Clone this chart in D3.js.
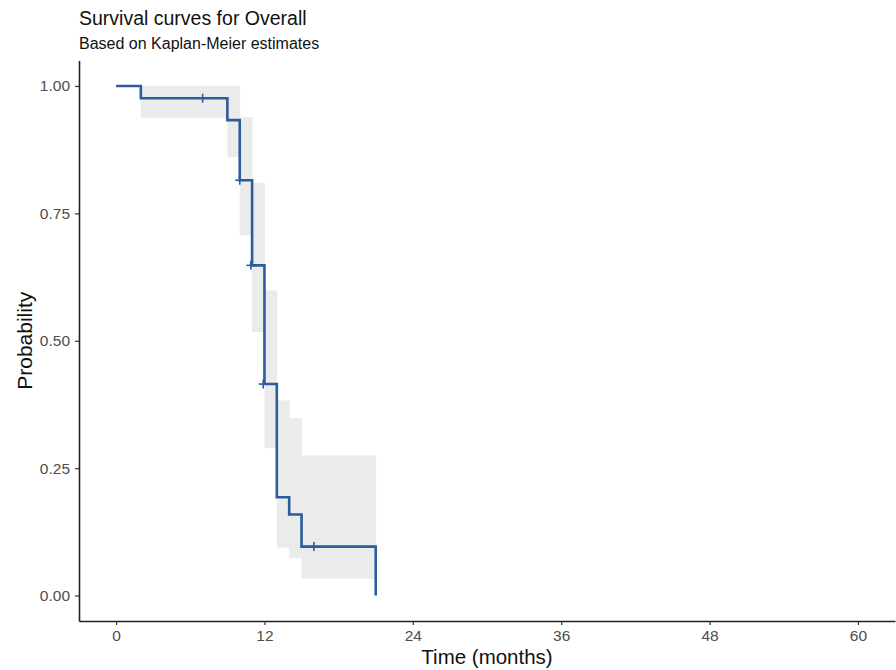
<!DOCTYPE html>
<html>
<head>
<meta charset="utf-8">
<script src="https://cdn.jsdelivr.net/npm/d3@7"></script>
<style>
  body { margin: 0; background: #fff; }
  svg { font-family: "Liberation Sans", Arial, sans-serif; }
</style>
</head>
<body>
<div id="chart"></div>
<script>
// Kaplan-Meier steps (time in months)
const stepTimes = [0, 2, 9, 10, 11, 12, 13, 14, 15, 21];
const survival  = [1.00, 0.976, 0.933, 0.815, 0.648, 0.415, 0.193, 0.159, 0.096, 0.0];
const ciUpper   = [1.00, 1.00, 1.00, 0.939, 0.81, 0.599, 0.383, 0.348, 0.275, null];
const ciLower   = [1.00, 0.937, 0.86, 0.707, 0.517, 0.289, 0.094, 0.073, 0.033, null];

// censor marks
const censorTimes = [7, 10, 10.9, 11.9, 16];
const censorSurv  = [0.976, 0.815, 0.648, 0.415, 0.096];

const xTicks = [0, 12, 24, 36, 48, 60];
const yTicks = [0, 0.25, 0.5, 0.75, 1];

const width = 896, height = 670;
const margin = { top: 60.5, right: 1, bottom: 49, left: 79 };

const svg = d3.select("#chart").append("svg")
    .attr("width", width)
    .attr("height", height);

const x = d3.scaleLinear().domain([-3, 63]).range([margin.left, width - margin.right]);
const y = d3.scaleLinear().domain([-0.05, 1.05]).range([height - margin.bottom, margin.top]);

var blue = "#2b5c9c";

// confidence band, one rectangle per step interval
const bands = [];
for (let i = 0; i < stepTimes.length - 1; i++) {
    if (ciUpper[i] == null) continue;
    bands.push({ t0: stepTimes[i], t1: stepTimes[i + 1], hi: ciUpper[i], lo: ciLower[i] });
}

svg.append("g")
    .selectAll("rect")
    .data(bands)
    .join("rect")
    .attr("x", d => x(d.t0))
    .attr("width", d => x(d.t1) - x(d.t0) + 0.5)
    .attr("y", d => y(d.hi))
    .attr("height", d => y(d.lo) - y(d.hi))
    .attr("fill", "#ebebeb");

// step line
const pts = stepTimes.map((t, i) => [t, survival[i]]);
const line = d3.line()
    .x(d => x(d[0]))
    .y(d => y(d[1]))
    .curve(d3.curveStepAfter);

svg.append("path")
    .datum(pts)
    .attr("fill", "none")
    .attr("stroke", blue)
    .attr("stroke-width", 2.6)
    .attr("d", line);

// censor "+" marks
const gCensor = svg.append("g")
    .attr("stroke", blue)
    .attr("stroke-width", 1.6);
censorTimes.forEach((t, i) => {
    const cx = x(t), cy = y(censorSurv[i]);
    gCensor.append("line").attr("x1", cx - 4.5).attr("x2", cx + 4.5).attr("y1", cy).attr("y2", cy);
    gCensor.append("line").attr("x1", cx).attr("x2", cx).attr("y1", cy - 4.5).attr("y2", cy + 4.5);
});

// axes
const xAxis = svg.append("g")
    .attr("transform", `translate(0,${height - margin.bottom})`)
    .call(d3.axisBottom(x).tickValues(xTicks).tickSize(4).tickPadding(5).tickSizeOuter(0));

const yAxis = svg.append("g")
    .attr("transform", `translate(${margin.left},0)`)
    .call(d3.axisLeft(y).tickValues(yTicks).tickSize(4).tickPadding(5).tickSizeOuter(0)
        .tickFormat(d3.format(".2f")));

[xAxis, yAxis].forEach(g => {
    g.select(".domain").attr("stroke", "#222").attr("stroke-width", 1.6);
    g.selectAll(".tick line").attr("stroke", "#333").attr("stroke-width", 1.2);
    g.selectAll(".tick text").attr("fill", "#4d4d4d").attr("font-size", 15.5)
        .attr("font-family", "Liberation Sans, Arial, sans-serif");
});

// axis titles
svg.append("text")
    .attr("x", (margin.left + width - margin.right) / 2)
    .attr("y", 664)
    .attr("text-anchor", "middle")
    .attr("font-size", 20.5)
    .attr("fill", "#111")
    .text("Time (months)");

svg.append("text")
    .attr("transform", `translate(32,${(margin.top + height - margin.bottom) / 2}) rotate(-90)`)
    .attr("text-anchor", "middle")
    .attr("font-size", 21)
    .attr("fill", "#111")
    .text("Probability");

// title and subtitle
svg.append("text")
    .attr("x", margin.left)
    .attr("y", 25)
    .attr("font-size", 19.5)
    .attr("fill", "#111")
    .text("Survival curves for Overall");

svg.append("text")
    .attr("x", margin.left)
    .attr("y", 49)
    .attr("font-size", 16)
    .attr("fill", "#111")
    .text("Based on Kaplan-Meier estimates");
</script>
</body>
</html>
